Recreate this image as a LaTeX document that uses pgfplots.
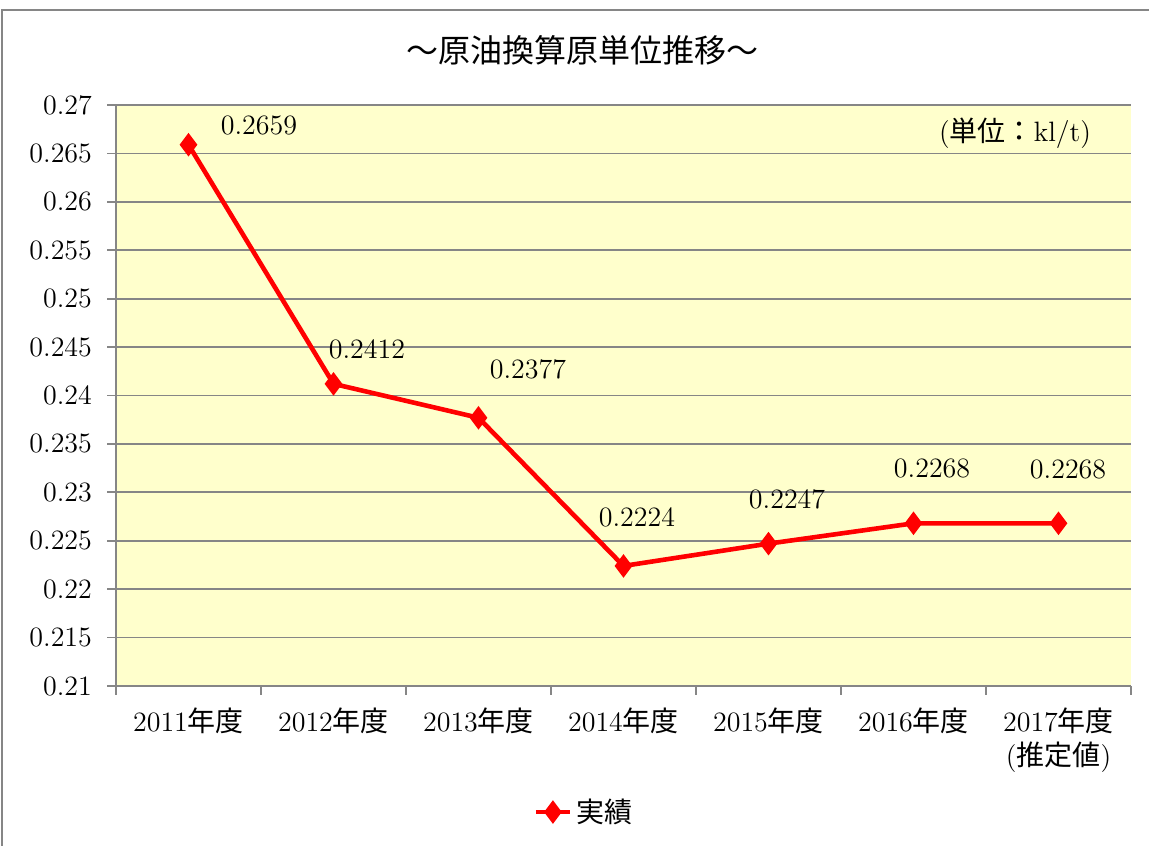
\documentclass[border=0pt]{standalone}
\usepackage{fontspec}
\newfontfamily\jp{Noto Sans CJK JP}
\usepackage{pgfplots}
\pgfplotsset{compat=1.18}
\definecolor{plotbg}{RGB}{255,255,204}
\definecolor{gridc}{RGB}{134,134,134}
\definecolor{framec}{RGB}{134,134,134}
\definecolor{linered}{RGB}{255,0,0}
\newcommand{\fs}{\fontsize{14}{17}\selectfont}
\begin{document}
\begin{tikzpicture}
\useasboundingbox (0,0) rectangle (574.5pt,422.5pt);
\draw[framec, line width=1pt] (1pt,-20pt) -- (1pt,417.5pt) -- (600pt,417.5pt);
\node[font=\fontsize{16}{19}\selectfont] at (291pt,397.5pt) {{\jp ～原油換算原単位推移～}};
\begin{axis}[
  scale only axis,
  width=507.5pt, height=290.5pt,
  anchor=south west, at={(58pt,79.5pt)},
  xmin=-0.5, xmax=6.5, ymin=0.21, ymax=0.27,
  axis background/.style={fill=plotbg},
  axis lines=left,
  axis line style={-, gridc, line width=0.9pt},
  ymajorgrids,
  grid style={gridc, line width=0.9pt},
  tick align=outside,
  major tick length=4.5pt,
  tick style={gridc, line width=0.9pt},
  ytick={0.21,0.215,0.22,0.225,0.23,0.235,0.24,0.245,0.25,0.255,0.26,0.265,0.27},
  yticklabels={0.21,0.215,0.22,0.225,0.23,0.235,0.24,0.245,0.25,0.255,0.26,0.265,0.27},
  yticklabel style={font=\fs, xshift=-4pt},
  xtick={-0.5,0.5,1.5,2.5,3.5,4.5,5.5,6.5},
  x tick label as interval,
  xticklabels={2011{\jp 年度},2012{\jp 年度},2013{\jp 年度},2014{\jp 年度},2015{\jp 年度},2016{\jp 年度},{2017{\jp 年度}\\({\jp 推定値})}},
  xticklabel style={font=\fs, align=center, yshift=-3pt},
  legend style={at={(0.462,-0.217)}, anchor=center, draw=none, fill=none, font=\fs},
  clip=false,
]
\addplot[linered, line width=2.3pt, mark=diamond*, mark size=4pt, mark options={solid, fill=linered}]
  coordinates {(0,0.2659) (1,0.2412) (2,0.2377) (3,0.2224) (4,0.2247) (5,0.2268) (6,0.2268)};
\addlegendentry{{\jp 実績}}
\node[font=\fs] at (axis cs:0.486,0.26793) {0.2659};
\node[font=\fs] at (axis cs:1.231,0.24480) {0.2412};
\node[font=\fs] at (axis cs:2.341,0.24274) {0.2377};
\node[font=\fs] at (axis cs:3.093,0.22745) {0.2224};
\node[font=\fs] at (axis cs:4.128,0.22931) {0.2247};
\node[font=\fs] at (axis cs:5.128,0.23251) {0.2268};
\node[font=\fs] at (axis cs:6.066,0.23231) {0.2268};
\end{axis}
\node[font=\fs] at (507.5pt,356pt) {({\jp 単位：}kl/t)};
\end{tikzpicture}
\end{document}
